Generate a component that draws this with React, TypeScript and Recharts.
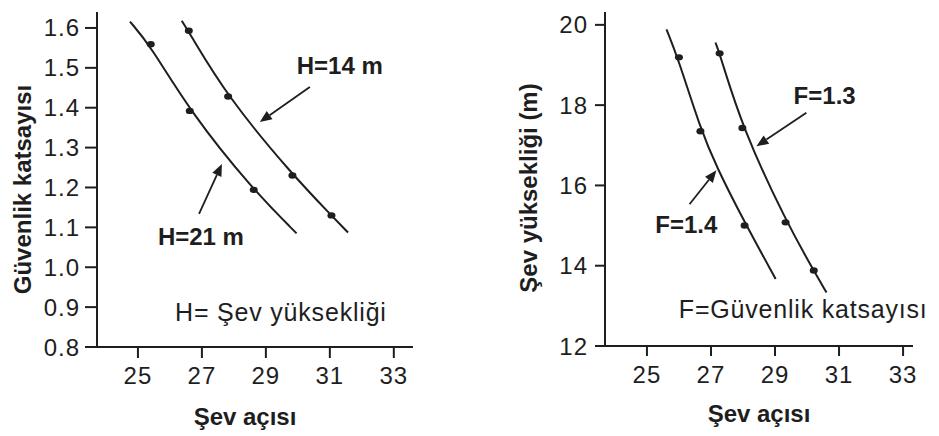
import {
  ComposedChart,
  Line,
  Scatter,
  XAxis,
  YAxis,
  ReferenceDot,
  ReferenceLine,
} from "recharts";

const FONT = "'Liberation Sans', Arial, sans-serif";
const INK = "#1e1e1e";

// shared x axis (slope angle)
const angleTicks = [25, 27, 29, 31, 33];

// left chart: safety factor vs slope angle
const safetyTicks = [0.8, 0.9, 1.0, 1.1, 1.2, 1.3, 1.4, 1.5, 1.6];

const h14Points = [
  { x: 26.59, y: 1.593 },
  { x: 27.82, y: 1.428 },
  { x: 29.83, y: 1.23 },
  { x: 31.05, y: 1.13 },
];
const h14Curve = [
  { x: 26.37, y: 1.618 },
  { x: 26.57, y: 1.593 },
  { x: 27.79, y: 1.428 },
  { x: 29.85, y: 1.23 },
  { x: 31.05, y: 1.13 },
  { x: 31.57, y: 1.087 },
];

const h21Points = [
  { x: 25.4, y: 1.559 },
  { x: 26.62, y: 1.392 },
  { x: 28.62, y: 1.194 },
];
const h21Curve = [
  { x: 24.75, y: 1.616 },
  { x: 25.38, y: 1.557 },
  { x: 26.63, y: 1.39 },
  { x: 28.6, y: 1.194 },
  { x: 29.96, y: 1.085 },
];

// right chart: slope height vs slope angle
const heightTicks = [12, 14, 16, 18, 20];

const f13Points = [
  { x: 27.27, y: 19.29 },
  { x: 27.98, y: 17.43 },
  { x: 29.33, y: 15.08 },
  { x: 30.21, y: 13.88 },
];
const f13Curve = [
  { x: 27.14, y: 19.56 },
  { x: 27.27, y: 19.29 },
  { x: 27.98, y: 17.43 },
  { x: 29.36, y: 15.08 },
  { x: 30.21, y: 13.88 },
  { x: 30.61, y: 13.33 },
];

const f14Points = [
  { x: 26.0, y: 19.19 },
  { x: 26.67, y: 17.35 },
  { x: 28.05, y: 15.0 },
];
const f14Curve = [
  { x: 25.61, y: 19.89 },
  { x: 25.97, y: 19.17 },
  { x: 26.65, y: 17.46 },
  { x: 27.17, y: 16.46 },
  { x: 28.05, y: 15.08 },
  { x: 29.02, y: 13.67 },
];

function Arrow(props: any) {
  const { x1, y1, x2, y2 } = props;
  const a = Math.atan2(y2 - y1, x2 - x1);
  const len = 12;
  const w = 5;
  const bx = x2 - len * Math.cos(a);
  const by = y2 - len * Math.sin(a);
  const p1 = `${bx + w * Math.sin(a)},${by - w * Math.cos(a)}`;
  const p2 = `${bx - w * Math.sin(a)},${by + w * Math.cos(a)}`;
  return (
    <g>
      <line x1={x1} y1={y1} x2={bx} y2={by} stroke={INK} strokeWidth={1.8} />
      <polygon points={`${x2},${y2} ${p1} ${p2}`} fill={INK} />
    </g>
  );
}

const Marker = (p: any) => <ellipse cx={p.cx} cy={p.cy} rx={4} ry={3.2} fill={INK} />;

const yTitle = (text: string, cx: number, shift: number) => (p: any) => {
  const vb = p.viewBox;
  const cy = vb.y + vb.height / 2 + shift;
  return (
    <text
      x={cx}
      y={cy}
      transform={`rotate(-90 ${cx} ${cy})`}
      textAnchor="middle"
      dominantBaseline="central"
      fontFamily={FONT}
      fontSize={24}
      fontWeight={700}
      fill={INK}
    >
      {text}
    </text>
  );
};

const note = (value: string, bold: boolean) => ({
  value,
  position: "center" as const,
  fontFamily: FONT,
  fontSize: bold ? 24 : 25,
  fontWeight: bold ? 700 : 400,
  letterSpacing: bold ? 0 : 0.8,
  fill: INK,
});

const tickStyle = { fill: INK, fontSize: 24, fontFamily: FONT, letterSpacing: 1 };
const axisLine = { stroke: INK, strokeWidth: 2 };
const tickLine = { stroke: INK, strokeWidth: 2 };

function SafetyChart() {
  return (
    <ComposedChart width={470} height={436} margin={{ top: 12, right: 57, bottom: 0, left: 0 }}>
      <XAxis
        type="number"
        dataKey="x"
        domain={[23.72, 33.6]}
        ticks={angleTicks}
        allowDataOverflow
        height={89}
        tickSize={11}
        tickMargin={9}
        tick={tickStyle}
        axisLine={axisLine}
        tickLine={tickLine}
        interval={0}
        label={{
          value: "Şev açısı",
          position: "insideBottom",
          offset: 11,
          dx: -10,
          fontFamily: FONT,
          fontSize: 24,
          fontWeight: 700,
          fill: INK,
        }}
      />
      <YAxis
        type="number"
        dataKey="y"
        domain={[0.8, 1.64]}
        ticks={safetyTicks}
        allowDataOverflow
        width={97}
        tickSize={12}
        tickMargin={5}
        tick={tickStyle}
        axisLine={axisLine}
        tickLine={tickLine}
        interval={0}
        tickFormatter={(v: number) => v.toFixed(1)}
        label={{ content: yTitle("Güvenlik katsayısı", 22, 10) }}
      />
      <Line data={h21Curve} dataKey="y" type="basis" stroke={INK} strokeWidth={2} dot={false} isAnimationActive={false} />
      <Line data={h14Curve} dataKey="y" type="basis" stroke={INK} strokeWidth={2} dot={false} isAnimationActive={false} />
      <Scatter data={h21Points} fill={INK} shape={Marker} isAnimationActive={false} />
      <Scatter data={h14Points} fill={INK} shape={Marker} isAnimationActive={false} />
      <ReferenceLine segment={[{ x: 30.375, y: 1.452 }, { x: 28.81, y: 1.364 }]} shape={Arrow} ifOverflow="visible" />
      <ReferenceLine segment={[{ x: 26.91, y: 1.134 }, { x: 27.625, y: 1.259 }]} shape={Arrow} ifOverflow="visible" />
      <ReferenceDot x={31.31} y={1.507} r={0} ifOverflow="visible" label={note("H=14 m", true)} />
      <ReferenceDot x={26.97} y={1.076} r={0} ifOverflow="visible" label={note("H=21 m", true)} />
      <ReferenceDot x={29.47} y={0.888} r={0} ifOverflow="visible" label={note("H= Şev yüksekliği", false)} />
    </ComposedChart>
  );
}

function HeightChart() {
  return (
    <ComposedChart width={469} height={436} margin={{ top: 12, right: 26, bottom: 0, left: 0 }}>
      <XAxis
        type="number"
        dataKey="x"
        domain={[23.69, 33.31]}
        ticks={angleTicks}
        allowDataOverflow
        height={90}
        tickSize={10}
        tickMargin={10}
        tick={tickStyle}
        axisLine={axisLine}
        tickLine={tickLine}
        interval={0}
        label={{
          value: "Şev açısı",
          position: "insideBottom",
          offset: 14,
          fontFamily: FONT,
          fontSize: 24,
          fontWeight: 700,
          fill: INK,
        }}
      />
      <YAxis
        type="number"
        dataKey="y"
        domain={[12, 20.32]}
        ticks={heightTicks}
        allowDataOverflow
        width={135}
        tickSize={10}
        tickMargin={7}
        tick={tickStyle}
        axisLine={axisLine}
        tickLine={tickLine}
        interval={0}
        label={{ content: yTitle("Şev yüksekliği (m)", 58, 9) }}
      />
      <Line data={f14Curve} dataKey="y" type="basis" stroke={INK} strokeWidth={2} dot={false} isAnimationActive={false} />
      <Line data={f13Curve} dataKey="y" type="basis" stroke={INK} strokeWidth={2} dot={false} isAnimationActive={false} />
      <Scatter data={f14Points} fill={INK} shape={Marker} isAnimationActive={false} />
      <Scatter data={f13Points} fill={INK} shape={Marker} isAnimationActive={false} />
      <ReferenceLine segment={[{ x: 29.98, y: 17.81 }, { x: 28.42, y: 16.975 }]} shape={Arrow} ifOverflow="visible" />
      <ReferenceLine segment={[{ x: 26.33, y: 15.53 }, { x: 27.17, y: 16.375 }]} shape={Arrow} ifOverflow="visible" />
      <ReferenceDot x={30.55} y={18.25} r={0} ifOverflow="visible" label={note("F=1.3", true)} />
      <ReferenceDot x={26.23} y={15.03} r={0} ifOverflow="visible" label={note("F=1.4", true)} />
      <ReferenceDot x={29.88} y={12.93} r={0} ifOverflow="visible" label={note("F=Güvenlik katsayısı", false)} />
    </ComposedChart>
  );
}

export default function App() {
  return (
    <div style={{ position: "absolute", left: 0, top: 0, width: 939, height: 436, background: "#fff" }}>
      <div style={{ position: "absolute", left: 0, top: 0 }}>
        <SafetyChart />
      </div>
      <div style={{ position: "absolute", left: 470, top: 0 }}>
        <HeightChart />
      </div>
    </div>
  );
}
